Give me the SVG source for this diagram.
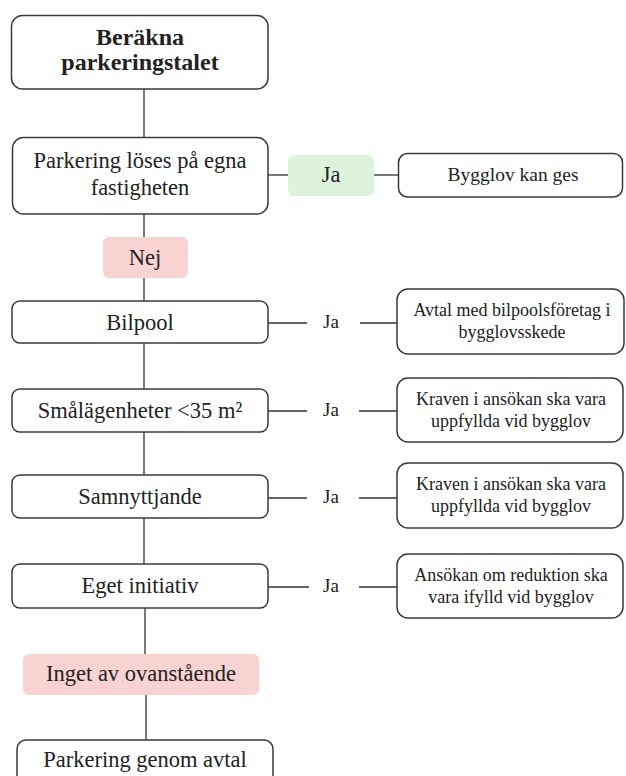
<svg xmlns="http://www.w3.org/2000/svg" width="626" height="776" viewBox="0 0 626 776">
<style>
.box{fill:#fff;stroke:#3a3a3a;stroke-width:1.5}
.yes{fill:#def3de;stroke:none}
.no{fill:#f9d2d2;stroke:none}
.ln{stroke:#333;stroke-width:1.3;fill:none}
text{font-family:"Liberation Serif","DejaVu Serif",serif;fill:#222;text-anchor:middle}
.t{font-size:22.5px}
.tb{font-size:24px;font-weight:bold}
.s{font-size:18px}
.j{font-size:19px}
</style>
<rect width="626" height="776" fill="#fff"/>
<g id="connectors">
<line class="ln" x1="144" y1="89" x2="144" y2="137"/>
<line class="ln" x1="144" y1="214" x2="144" y2="237"/>
<line class="ln" x1="144" y1="278" x2="144" y2="301"/>
<line class="ln" x1="144" y1="343" x2="144" y2="389"/>
<line class="ln" x1="144" y1="432" x2="144" y2="475"/>
<line class="ln" x1="144" y1="518" x2="144" y2="564"/>
<line class="ln" x1="145" y1="608" x2="145" y2="654"/>
<line class="ln" x1="146" y1="695" x2="146" y2="740"/>
<line class="ln" x1="268" y1="175" x2="288" y2="175"/>
<line class="ln" x1="374" y1="175" x2="398" y2="175"/>
<line class="ln" x1="268" y1="323" x2="307" y2="323"/>
<line class="ln" x1="360" y1="323" x2="397" y2="323"/>
<line class="ln" x1="268" y1="411" x2="307" y2="411"/>
<line class="ln" x1="359" y1="411" x2="397" y2="411"/>
<line class="ln" x1="268" y1="498" x2="307" y2="498"/>
<line class="ln" x1="359" y1="498" x2="397" y2="498"/>
<line class="ln" x1="268" y1="587" x2="309" y2="587"/>
<line class="ln" x1="359" y1="587" x2="397" y2="587"/>
</g>
<g id="ja-labels">
<text class="j" x="331" y="328">Ja</text>
<text class="j" x="331" y="416">Ja</text>
<text class="j" x="331" y="503">Ja</text>
<text class="j" x="331" y="592">Ja</text>
</g>
<g id="n-start">
<rect class="box" x="11.5" y="15.5" width="256.5" height="73.5" rx="11"/>
<text class="tb" x="140" y="45">Beräkna</text>
<text class="tb" x="140" y="70">parkeringstalet</text>
</g>
<g id="n-egna">
<rect class="box" x="12.5" y="137.5" width="255.5" height="76.5" rx="11"/>
<text class="t" x="140" y="168">Parkering löses på egna</text>
<text class="t" x="140" y="195">fastigheten</text>
</g>
<g id="n-ja-green">
<rect class="yes" x="288" y="155" width="86" height="41" rx="6"/>
<text class="t" x="331" y="182">Ja</text>
</g>
<g id="n-bygglov">
<rect class="box" x="398.5" y="153.5" width="224" height="43.5" rx="9"/>
<text style="font-size:19.5px" x="513" y="181">Bygglov kan ges</text>
</g>
<g id="n-nej">
<rect class="no" x="103" y="237" width="85" height="41" rx="6"/>
<text class="t" x="145" y="265">Nej</text>
</g>
<g id="n-bilpool">
<rect class="box" x="12" y="301" width="256" height="42" rx="8"/>
<text class="t" x="140" y="330">Bilpool</text>
</g>
<g id="n-bilpool-r">
<rect class="box" x="397" y="289" width="227" height="65" rx="11"/>
<text class="s" x="512" y="316">Avtal med bilpoolsföretag i</text>
<text class="s" x="512" y="338">bygglovsskede</text>
</g>
<g id="n-sma">
<rect class="box" x="12" y="389" width="256" height="43" rx="8"/>
<text class="t" x="140" y="418">Smålägenheter &lt;35 m²</text>
</g>
<g id="n-sma-r">
<rect class="box" x="397" y="378" width="226" height="64" rx="11"/>
<text class="s" x="511" y="404.5">Kraven i ansökan ska vara</text>
<text class="s" x="511" y="426.5">uppfyllda vid bygglov</text>
</g>
<g id="n-samn">
<rect class="box" x="12" y="475" width="256" height="43" rx="8"/>
<text class="t" x="140" y="503.5">Samnyttjande</text>
</g>
<g id="n-samn-r">
<rect class="box" x="397" y="463" width="226" height="65" rx="11"/>
<text class="s" x="511" y="490">Kraven i ansökan ska vara</text>
<text class="s" x="511" y="512">uppfyllda vid bygglov</text>
</g>
<g id="n-eget">
<rect class="box" x="12" y="564" width="256" height="44" rx="8"/>
<text class="t" x="140" y="593">Eget initiativ</text>
</g>
<g id="n-eget-r">
<rect class="box" x="397" y="554" width="226" height="64" rx="11"/>
<text class="s" x="511" y="580.5">Ansökan om reduktion ska</text>
<text class="s" x="511" y="602.5">vara ifylld vid bygglov</text>
</g>
<g id="n-inget">
<rect class="no" x="23" y="654" width="236" height="41" rx="6"/>
<text class="t" x="141" y="681">Inget av ovanstående</text>
</g>
<g id="n-avtal">
<rect class="box" x="17" y="740" width="256" height="50" rx="9"/>
<text class="t" x="145" y="767">Parkering genom avtal</text>
</g>
</svg>
